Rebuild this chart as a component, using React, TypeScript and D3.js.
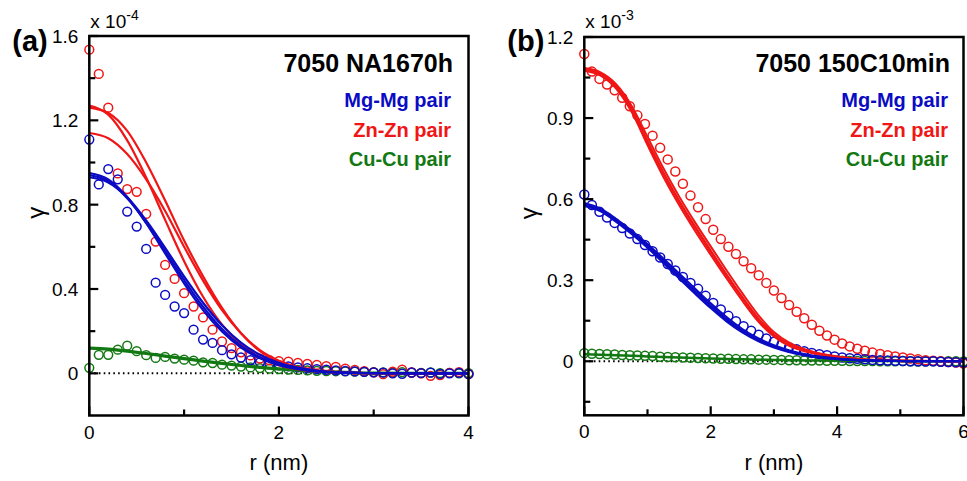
import React from 'react';
import * as d3 from 'd3';

const FONT = '"Liberation Sans", Arial, Helvetica, sans-serif';
const BLUE = '#0b0bc4';
const RED = '#f01616';
const GREEN = '#127812';

// ---------- Panel (a): 7050 NA1670h (values in units of 1e-4) ----------
const aR = [0, 0.1, 0.2, 0.3, 0.4, 0.5, 0.6, 0.7, 0.8, 0.9, 1.0, 1.1, 1.2, 1.3, 1.4, 1.5, 1.6, 1.7, 1.8, 1.9,
  2.0, 2.1, 2.2, 2.3, 2.4, 2.5, 2.6, 2.7, 2.8, 2.9, 3.0, 3.1, 3.2, 3.3, 3.4, 3.5, 3.6, 3.7, 3.8, 3.9, 4.0];
const aMgMg = [1.109, 0.896, 0.969, 0.92, 0.767, 0.696, 0.59, 0.43, 0.372, 0.317, 0.286, 0.207, 0.16, 0.144, 0.11,
  0.09, 0.075, 0.062, 0.052, 0.044, 0.038, 0.033, 0.028, 0.024, 0.02, 0.017, 0.014, 0.011, 0.009, 0.007, 0.005,
  0.003, 0.0, -0.002, 0.004, 0.001, 0.003, -0.003, 0.0, 0.002, -0.004];
const aZnZn = [1.535, 1.42, 1.26, 0.948, 0.874, 0.861, 0.756, 0.625, 0.514, 0.448, 0.38, 0.317, 0.265, 0.207, 0.151,
  0.12, 0.1, 0.085, 0.07, 0.062, 0.058, 0.055, 0.05, 0.045, 0.04, 0.034, 0.03, 0.022, 0.016, 0.01, 0.005,
  -0.004, 0.008, 0.018, 0.004, 0.0, -0.012, -0.008, 0.002, 0.006, -0.004];
const aCuCu = [0.026, 0.088, 0.088, 0.112, 0.131, 0.105, 0.086, 0.073, 0.078, 0.07, 0.065, 0.06, 0.052, 0.049, 0.041,
  0.037, 0.032, 0.028, 0.025, 0.022, 0.02, 0.018, 0.016, 0.014, 0.012, 0.011, 0.01, 0.009, 0.008, 0.007, 0.006,
  0.005, 0.004, 0.006, 0.003, 0.002, 0.004, 0.001, 0.002, 0.0, 0.001];

const aFitR = [0, 0.2, 0.4, 0.6, 0.8, 1.0, 1.2, 1.4, 1.6, 1.8, 2.0, 2.2, 2.4, 2.6, 2.8, 3.0, 3.5, 4.0];
const aZnFit1 = [1.27, 1.227, 1.105, 0.929, 0.728, 0.532, 0.363, 0.231, 0.137, 0.076, 0.039, 0.019, 0.0086, 0.0037, 0.0015, 0.0005, 0, 0];
const aZnFit2 = [1.14, 1.115, 1.04, 0.92, 0.77, 0.6, 0.44, 0.3, 0.19, 0.11, 0.06, 0.03, 0.014, 0.006, 0.002, 0.001, 0, 0];
const aZnFit3 = [1.26, 1.235, 1.15, 1.0, 0.82, 0.63, 0.46, 0.31, 0.19, 0.105, 0.055, 0.026, 0.012, 0.005, 0.002, 0.001, 0, 0];
const aMgFit1 = [0.95, 0.92, 0.836, 0.712, 0.569, 0.427, 0.3, 0.198, 0.122, 0.071, 0.039, 0.02, 0.0095, 0.004, 0.002, 0.001, 0, 0];
const aMgFit2 = [0.93, 0.905, 0.835, 0.725, 0.595, 0.46, 0.335, 0.228, 0.146, 0.088, 0.05, 0.027, 0.013, 0.006, 0.003, 0.001, 0, 0];
const aMgFit3 = [0.94, 0.912, 0.83, 0.715, 0.58, 0.443, 0.316, 0.21, 0.13, 0.076, 0.042, 0.022, 0.01, 0.005, 0.002, 0.001, 0, 0];
const aCuFit = [0.12, 0.115, 0.105, 0.094, 0.082, 0.07, 0.058, 0.047, 0.037, 0.028, 0.021, 0.015, 0.01, 0.006, 0.003, 0.001, 0, 0];

const aYMajor = [0, 0.4, 0.8, 1.2, 1.6];
const aYLabels = ['0', '0.4', '0.8', '1.2', '1.6'];
const aYMinor = [0.2, 0.6, 1.0, 1.4];
const aXMajor = [0, 2, 4];
const aXLabels = ['0', '2', '4'];
const aXMinor = [1, 3];

// ---------- Panel (b): 7050 150C10min (values in units of 1e-3) ----------
const bR = [0, 0.12, 0.24, 0.36, 0.48, 0.6, 0.72, 0.84, 0.96, 1.08, 1.2, 1.32, 1.44, 1.56, 1.68, 1.8, 1.92, 2.04,
  2.16, 2.28, 2.4, 2.52, 2.64, 2.76, 2.88, 3.0, 3.12, 3.24, 3.36, 3.48, 3.6, 3.72, 3.84, 3.96, 4.08, 4.2, 4.32,
  4.44, 4.56, 4.68, 4.8, 4.92, 5.04, 5.16, 5.28, 5.4, 5.52, 5.64, 5.76, 5.88, 6.0];
const bMgMg = [0.617, 0.578, 0.553, 0.532, 0.512, 0.493, 0.473, 0.452, 0.43, 0.407, 0.384, 0.36, 0.336, 0.312, 0.29,
  0.268, 0.242, 0.216, 0.192, 0.168, 0.148, 0.13, 0.113, 0.098, 0.084, 0.072, 0.061, 0.052, 0.044, 0.037, 0.031,
  0.026, 0.022, 0.018, 0.014, 0.011, 0.009, 0.007, 0.005, 0.004, 0.003, 0.002, 0.001, 0.0, 0.0, -0.001, 0.0,
  -0.002, -0.003, -0.004, -0.005];
const bZnZn = [1.137, 1.072, 1.045, 1.024, 1.003, 0.975, 0.944, 0.91, 0.878, 0.835, 0.79, 0.747, 0.702, 0.657, 0.613,
  0.57, 0.526, 0.487, 0.452, 0.424, 0.397, 0.37, 0.344, 0.318, 0.29, 0.262, 0.234, 0.208, 0.183, 0.159, 0.135,
  0.113, 0.095, 0.08, 0.066, 0.055, 0.046, 0.039, 0.032, 0.027, 0.022, 0.018, 0.014, 0.01, 0.007, 0.004, 0.002,
  0.0, -0.003, -0.005, -0.008];
const bCuCu = [0.03, 0.028, 0.027, 0.026, 0.025, 0.023, 0.022, 0.021, 0.02, 0.019, 0.017, 0.016, 0.015, 0.014, 0.013,
  0.012, 0.011, 0.01, 0.009, 0.009, 0.008, 0.007, 0.007, 0.006, 0.006, 0.005, 0.005, 0.004, 0.004, 0.003, 0.003,
  0.003, 0.002, 0.002, 0.002, 0.001, 0.001, 0.001, 0.001, 0.0, 0.0, 0.0, 0.001, 0.0, -0.001, 0.0, 0.0, -0.001,
  0.0, 0.0, -0.001];

const bFitR = [0, 0.25, 0.5, 0.75, 1, 1.25, 1.5, 1.75, 2, 2.25, 2.5, 2.75, 3, 3.25, 3.5, 3.75, 4, 4.5, 5, 5.5, 6];
const bZnFit1 = [1.08, 1.065, 1.02, 0.935, 0.815, 0.7, 0.595, 0.5, 0.41, 0.322, 0.238, 0.16, 0.1, 0.062, 0.04, 0.026, 0.017, 0.006, 0.002, 0.001, 0];
const bZnFit2 = [1.075, 1.058, 1.01, 0.922, 0.8, 0.683, 0.578, 0.483, 0.394, 0.307, 0.224, 0.148, 0.092, 0.056, 0.036, 0.023, 0.015, 0.005, 0.002, 0.001, 0];
const bZnFit3 = [1.085, 1.07, 1.026, 0.945, 0.83, 0.715, 0.61, 0.515, 0.425, 0.337, 0.252, 0.172, 0.108, 0.068, 0.044, 0.028, 0.018, 0.006, 0.002, 0.001, 0];
const bZnFit4 = [1.08, 1.062, 1.015, 0.93, 0.81, 0.695, 0.59, 0.495, 0.405, 0.318, 0.234, 0.156, 0.097, 0.06, 0.039, 0.025, 0.016, 0.006, 0.002, 0.001, 0];
const bMgFit1 = [0.58, 0.56, 0.522, 0.477, 0.427, 0.372, 0.316, 0.26, 0.205, 0.155, 0.113, 0.08, 0.055, 0.037, 0.024, 0.015, 0.009, 0.003, 0.001, 0, 0];
const bMgFit2 = [0.575, 0.556, 0.517, 0.471, 0.42, 0.364, 0.307, 0.251, 0.197, 0.148, 0.107, 0.075, 0.051, 0.034, 0.022, 0.014, 0.008, 0.003, 0.001, 0, 0];
const bMgFit3 = [0.585, 0.565, 0.527, 0.483, 0.434, 0.38, 0.325, 0.269, 0.214, 0.163, 0.119, 0.085, 0.059, 0.04, 0.026, 0.016, 0.01, 0.003, 0.001, 0, 0];
const bCuFit = [0.026, 0.024, 0.022, 0.02, 0.018, 0.016, 0.014, 0.012, 0.01, 0.0085, 0.007, 0.006, 0.005, 0.004, 0.003, 0.0025, 0.002, 0.001, 0.0005, 0, 0];

const bYMajor = [0, 0.3, 0.6, 0.9, 1.2];
const bYLabels = ['0', '0.3', '0.6', '0.9', '1.2'];
const bYMinor = [-0.15, 0.15, 0.45, 0.75, 1.05];
const bXMajor = [0, 2, 4, 6];
const bXLabels = ['0', '2', '4', '6'];
const bXMinor = [1, 3, 5];

const legendNames = ['Mg-Mg pair', 'Zn-Zn pair', 'Cu-Cu pair'];
const legendColors = [BLUE, RED, GREEN];

type Fit = { ys: number[]; color: string; width: number };
type Pts = { ys: number[]; color: string };

type PanelProps = {
  tag: string;
  title: string;
  exponent: string;
  left: number;
  right: number;
  top: number;
  bottom: number;
  xDomain: [number, number];
  yDomain: [number, number];
  xs: number[];
  points: Pts[];
  fitXs: number[];
  fits: Fit[];
  yMajor: number[];
  yLabels: string[];
  yMinor: number[];
  xMajor: number[];
  xLabels: string[];
  xMinor: number[];
  gammaX: number;
  titleRight: number;
  markerR: number;
};

function Panel(p: PanelProps) {
  const x = d3.scaleLinear().domain(p.xDomain).range([p.left, p.right]);
  const y = d3.scaleLinear().domain(p.yDomain).range([p.bottom, p.top]);
  const line = d3
    .line<number>()
    .x((_, i) => x(p.fitXs[i]))
    .y((d) => y(d))
    .curve(d3.curveMonotoneX);
  const majorLen = 9;
  const minorLen = 6;
  const midX = (p.left + p.right) / 2;
  const midY = (p.top + p.bottom) / 2;

  return (
    <g>
      {/* zero reference */}
      <line
        x1={x(p.xDomain[0])}
        x2={x(p.xDomain[1])}
        y1={y(0)}
        y2={y(0)}
        stroke="#000"
        strokeWidth={2}
        strokeDasharray="1.6 3.2"
      />
      {/* measured pair correlations */}
      {p.points.map((s, si) => (
        <g key={'p' + si}>
          {s.ys.map((v, i) => (
            <circle
              key={i}
              cx={x(p.xs[i])}
              cy={y(v)}
              r={p.markerR}
              fill="none"
              stroke={s.color}
              strokeWidth={1.5}
            />
          ))}
        </g>
      ))}
      {/* fitted curves */}
      {p.fits.map((f, fi) => (
        <path key={'f' + fi} d={line(f.ys) || ''} fill="none" stroke={f.color} strokeWidth={f.width} />
      ))}
      {/* frame */}
      <rect
        x={p.left}
        y={p.top}
        width={p.right - p.left}
        height={p.bottom - p.top}
        fill="none"
        stroke="#000"
        strokeWidth={2.5}
      />
      {/* y ticks */}
      {p.yMajor.map((v, i) => (
        <g key={'ym' + i}>
          <line x1={p.left} x2={p.left + majorLen} y1={y(v)} y2={y(v)} stroke="#000" strokeWidth={2.2} />
          <text
            x={p.left - 11}
            y={y(v)}
            dy="0.36em"
            textAnchor="end"
            fontSize={19}
            fontFamily={FONT}
          >
            {p.yLabels[i]}
          </text>
        </g>
      ))}
      {p.yMinor.map((v, i) => (
        <line key={'yn' + i} x1={p.left} x2={p.left + minorLen} y1={y(v)} y2={y(v)} stroke="#000" strokeWidth={2.2} />
      ))}
      {/* x ticks */}
      {p.xMajor.map((v, i) => (
        <g key={'xm' + i}>
          <line x1={x(v)} x2={x(v)} y1={p.bottom} y2={p.bottom - majorLen} stroke="#000" strokeWidth={2.2} />
          <text x={x(v)} y={p.bottom + 23} textAnchor="middle" fontSize={19} fontFamily={FONT}>
            {p.xLabels[i]}
          </text>
        </g>
      ))}
      {p.xMinor.map((v, i) => (
        <line key={'xn' + i} x1={x(v)} x2={x(v)} y1={p.bottom} y2={p.bottom - minorLen} stroke="#000" strokeWidth={2.2} />
      ))}
      {/* multiplier */}
      <text x={p.left + 1} y={28} fontSize={19} fontFamily={FONT}>
        x 10
        <tspan dy={-8} fontSize={14}>
          {p.exponent}
        </tspan>
      </text>
      {/* panel tag */}
      <text x={p.left - 77} y={51} fontSize={29} fontWeight="bold" fontFamily={FONT}>
        {p.tag}
      </text>
      {/* axis titles */}
      <text x={midX} y={470} textAnchor="middle" fontSize={22} fontFamily={FONT}>
        r (nm)
      </text>
      <text
        transform={`translate(${p.gammaX},${midY - 13}) rotate(-90)`}
        textAnchor="middle"
        fontSize={24}
        fontFamily={FONT}
      >
        γ
      </text>
      {/* title and legend */}
      <text x={p.titleRight} y={71.5} textAnchor="end" fontSize={25} fontWeight="bold" fontFamily={FONT}>
        {p.title}
      </text>
      {legendNames.map((n, i) => (
        <text
          key={n}
          x={p.titleRight - 2}
          y={107 + i * 29.5}
          textAnchor="end"
          fontSize={20}
          fontWeight="bold"
          fontFamily={FONT}
          fill={legendColors[i]}
        >
          {n}
        </text>
      ))}
    </g>
  );
}

export default function App() {
  return (
    <svg
      width={967}
      height={481}
      viewBox="0 0 967 481"
      style={{ position: 'absolute', left: 0, top: 0, background: '#fff' }}
    >
      <rect x={0} y={0} width={967} height={481} fill="#fff" />
      <Panel
        tag="(a)"
        title="7050 NA1670h"
        exponent="-4"
        left={89.3}
        right={468.5}
        top={36}
        bottom={415.5}
        xDomain={[0, 4]}
        yDomain={[-0.2, 1.6]}
        xs={aR}
        points={[
          { ys: aCuCu, color: GREEN },
          { ys: aZnZn, color: RED },
          { ys: aMgMg, color: BLUE },
        ]}
        fitXs={aFitR}
        fits={[
          { ys: aCuFit, color: GREEN, width: 3.2 },
          { ys: aZnFit2, color: RED, width: 2.2 },
          { ys: aZnFit1, color: RED, width: 2.2 },
          { ys: aZnFit3, color: RED, width: 2.2 },
          { ys: aMgFit2, color: BLUE, width: 2.2 },
          { ys: aMgFit1, color: BLUE, width: 2.2 },
          { ys: aMgFit3, color: BLUE, width: 2.2 },
        ]}
        yMajor={aYMajor}
        yLabels={aYLabels}
        yMinor={aYMinor}
        xMajor={aXMajor}
        xLabels={aXLabels}
        xMinor={aXMinor}
        gammaX={44}
        titleRight={453}
        markerR={4.4}
      />
      <Panel
        tag="(b)"
        title="7050 150C10min"
        exponent="-3"
        left={584.3}
        right={963.5}
        top={37}
        bottom={415.3}
        xDomain={[0, 6]}
        yDomain={[-0.2, 1.2]}
        xs={bR}
        points={[
          { ys: bCuCu, color: GREEN },
          { ys: bZnZn, color: RED },
          { ys: bMgMg, color: BLUE },
        ]}
        fitXs={bFitR}
        fits={[
          { ys: bCuFit, color: GREEN, width: 2.5 },
          { ys: bZnFit1, color: RED, width: 2 },
          { ys: bZnFit2, color: RED, width: 2 },
          { ys: bZnFit3, color: RED, width: 2 },
          { ys: bZnFit4, color: RED, width: 2 },
          { ys: bMgFit1, color: BLUE, width: 2.2 },
          { ys: bMgFit2, color: BLUE, width: 2.2 },
          { ys: bMgFit3, color: BLUE, width: 2.2 },
        ]}
        yMajor={bYMajor}
        yLabels={bYLabels}
        yMinor={bYMinor}
        xMajor={bXMajor}
        xLabels={bXLabels}
        xMinor={bXMinor}
        gammaX={537}
        titleRight={950}
        markerR={4.5}
      />
    </svg>
  );
}
